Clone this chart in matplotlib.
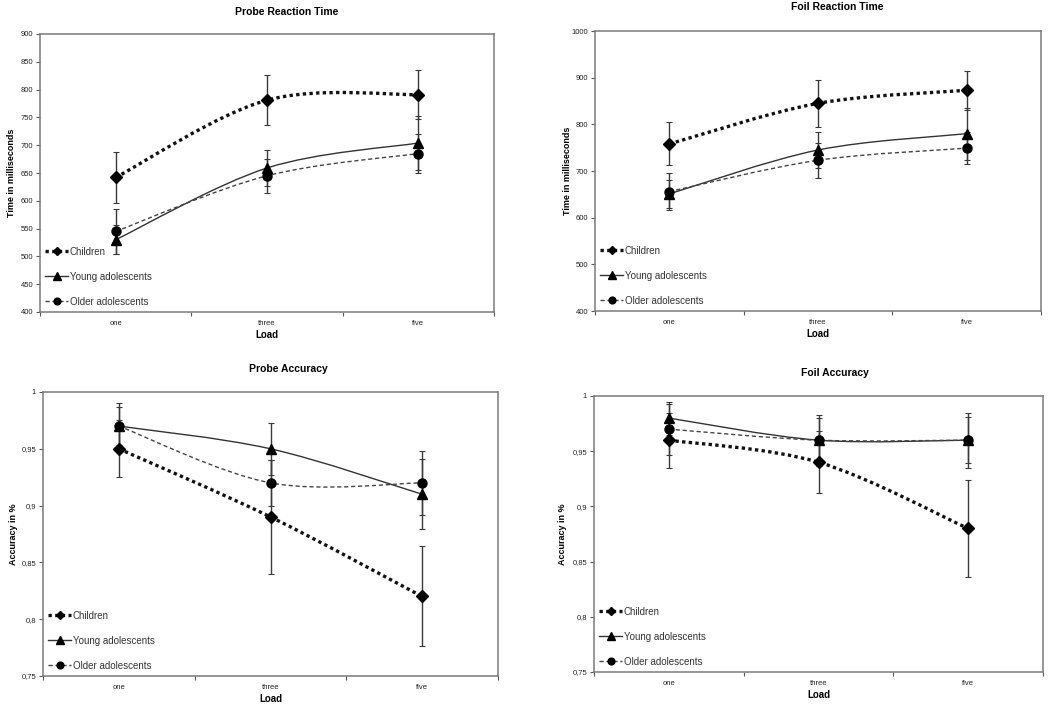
import numpy as np
import matplotlib
matplotlib.use('Agg')
import matplotlib.pyplot as plt
from matplotlib.path import Path
from matplotlib.patches import PathPatch
from matplotlib.lines import Line2D
from matplotlib.ticker import FixedLocator, FuncFormatter

plt.rcParams['font.family'] = ['Liberation Sans', 'DejaVu Sans']

loads = ['one', 'three', 'five']
groups = ['Children', 'Young adolescents', 'Older adolescents']

probe_rt_children = [642, 781, 791]
probe_rt_young = [530, 659, 704]
probe_rt_older = [545, 645, 685]
probe_rt_err_children = [46, 45, 44]
probe_rt_err_young = [26, 33, 48]
probe_rt_err_older = [40, 31, 35]

foil_rt_children = [758, 845, 873]
foil_rt_young = [651, 745, 780]
foil_rt_older = [656, 723, 749]
foil_rt_err_children = [46, 50, 42]
foil_rt_err_young = [30, 39, 56]
foil_rt_err_older = [40, 37, 34]

probe_acc_children = [0.95, 0.89, 0.82]
probe_acc_young = [0.97, 0.95, 0.91]
probe_acc_older = [0.97, 0.92, 0.92]
probe_acc_err_children = [0.025, 0.05, 0.044]
probe_acc_err_young = [0.02, 0.023, 0.031]
probe_acc_err_older = [0.017, 0.02, 0.028]

foil_acc_children = [0.96, 0.94, 0.88]
foil_acc_young = [0.98, 0.96, 0.96]
foil_acc_older = [0.97, 0.96, 0.96]
foil_acc_err_children = [0.025, 0.028, 0.044]
foil_acc_err_young = [0.015, 0.023, 0.025]
foil_acc_err_older = [0.023, 0.02, 0.021]

styles = {
    'Children': dict(ls=(0, (1, 1)), lw=2.4, marker='D', ms=6, color='black', lcolor='#111111'),
    'Young adolescents': dict(ls='-', lw=1.0, marker='^', ms=7, color='black', lcolor='#333333'),
    'Older adolescents': dict(ls=(0, (3, 2)), lw=1.0, marker='o', ms=6.5, color='black', lcolor='#444444'),
}


def smooth_path(x, y):
    # Excel-style smoothed line: Catmull-Rom converted to cubic Bezier
    n = len(x)
    pts = list(zip(x, y))
    verts = [pts[0]]
    codes = [Path.MOVETO]
    for i in range(n - 1):
        p0 = np.array(pts[i - 1] if i > 0 else pts[i])
        p1 = np.array(pts[i])
        p2 = np.array(pts[i + 1])
        p3 = np.array(pts[i + 2] if i + 2 < n else pts[i + 1])
        c1 = p1 + (p2 - p0) / 6.0
        c2 = p2 - (p3 - p1) / 6.0
        verts += [tuple(c1), tuple(c2), tuple(p2)]
        codes += [Path.CURVE4] * 3
    return Path(verts, codes)


def panel(rect, title, title_xy, ylabel, ylim, yticks, fmt, series, errs, ylab_x):
    ax = fig.add_axes(rect)
    x = np.arange(len(loads))
    for g, vals, err in zip(groups, series, errs):
        st = styles[g]
        ax.errorbar(x, vals, yerr=err, fmt='none', ecolor='#3a3a3a', elinewidth=1.0,
                    capsize=2, capthick=0.8, zorder=2)
        patch = PathPatch(smooth_path(x, vals), facecolor='none', edgecolor=st['lcolor'],
                          lw=st['lw'], linestyle=st['ls'], transform=ax.transData, zorder=3)
        ax.add_patch(patch)
        ax.plot(x, vals, linestyle='none', marker=st['marker'], ms=st['ms'],
                color=st['color'], zorder=4)
    ax.set_xlim(-0.5, len(loads) - 0.5)
    ax.set_ylim(*ylim)
    ax.set_yticks(yticks)
    ax.yaxis.set_major_formatter(FuncFormatter(fmt))
    ax.set_xticks(x)
    ax.set_xticklabels(loads)
    ax.xaxis.set_minor_locator(FixedLocator(np.arange(-0.5, len(loads), 1.0)))
    ax.tick_params(axis='x', which='major', length=0, labelsize=5.5, pad=6, colors='#222222')
    ax.tick_params(axis='x', which='minor', length=3, width=0.8, color='#555555', direction='out')
    ax.tick_params(axis='y', length=3, width=0.8, color='#555555', labelsize=5.5, pad=2,
                   labelcolor='#222222')
    for s in ax.spines.values():
        s.set_color('#7a7a7a')
        s.set_linewidth(1.1)
    ax.set_xlabel('Load', fontsize=7, fontweight='bold')
    ax.xaxis.set_label_coords(0.5, -0.065)
    ax.set_ylabel(ylabel, fontsize=6.5, fontweight='bold')
    ax.yaxis.set_label_coords(ylab_x, 0.5)
    handles = []
    for g in groups:
        st = styles[g]
        handles.append(Line2D([], [], linestyle=st['ls'], lw=st['lw'], color=st['lcolor'],
                              marker=st['marker'], ms=st['ms'] * 0.75, mfc='black', mec='black'))
    leg = ax.legend(handles, groups, loc='lower left', frameon=False, fontsize=7,
                    handlelength=2.3, handletextpad=0.2, labelspacing=1.55,
                    borderaxespad=0.15, bbox_to_anchor=(0.0, 0.0))
    for t in leg.get_texts():
        t.set_color('#333333')
    fig.text(title_xy[0] / 1050, 1 - title_xy[1] / 708, title, ha='center', va='center',
             fontsize=7.5, fontweight='bold')
    return ax


def int_fmt(v, p):
    return '%d' % round(v)


def comma_fmt(v, p):
    s = ('%.2f' % v).rstrip('0').rstrip('.')
    return s.replace('.', ',')


fig = plt.figure(figsize=(10.5, 7.08), dpi=100)

panel([40 / 1050, 1 - 312 / 708, 454 / 1050, 278 / 708], 'Probe Reaction Time', (287, 12),
      'Time in milliseconds', (400, 900), np.arange(400, 901, 50), int_fmt,
      [probe_rt_children, probe_rt_young, probe_rt_older],
      [probe_rt_err_children, probe_rt_err_young, probe_rt_err_older], -0.052)

panel([595 / 1050, 1 - 311 / 708, 446 / 1050, 280 / 708], 'Foil Reaction Time', (837, 7),
      'Time in milliseconds', (400, 1000), np.arange(400, 1001, 100), int_fmt,
      [foil_rt_children, foil_rt_young, foil_rt_older],
      [foil_rt_err_children, foil_rt_err_young, foil_rt_err_older], -0.052)

panel([43 / 1050, 1 - 676 / 708, 455 / 1050, 284 / 708], 'Probe Accuracy', (288, 369),
      'Accuracy in %', (0.75, 1.0), np.arange(0.75, 1.001, 0.05), comma_fmt,
      [probe_acc_children, probe_acc_young, probe_acc_older],
      [probe_acc_err_children, probe_acc_err_young, probe_acc_err_older], -0.055)

panel([594 / 1050, 1 - 672 / 708, 449 / 1050, 276 / 708], 'Foil Accuracy', (835, 373),
      'Accuracy in %', (0.75, 1.0), np.arange(0.75, 1.001, 0.05), comma_fmt,
      [foil_acc_children, foil_acc_young, foil_acc_older],
      [foil_acc_err_children, foil_acc_err_young, foil_acc_err_older], -0.06)

fig.savefig('out.png', dpi=100)
